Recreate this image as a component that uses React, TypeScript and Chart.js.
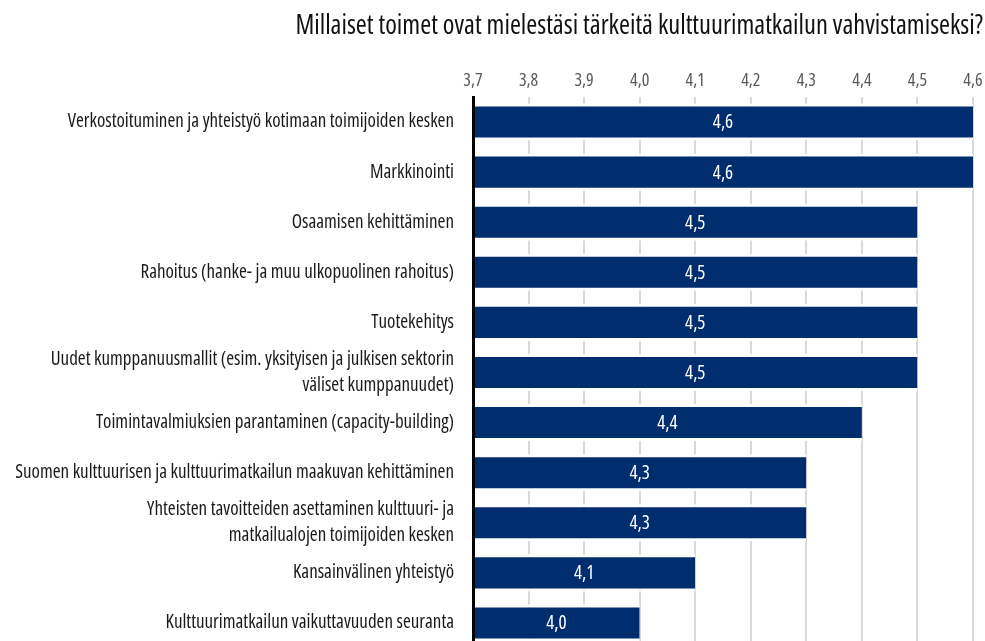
import React, { useEffect, useRef } from 'react';
import { Chart, registerables } from 'chart.js';

Chart.register(...registerables);

const TITLE = 'Millaiset toimet ovat mielestäsi tärkeitä kulttuurimatkailun vahvistamiseksi?';

const categories: (string | string[])[] = [
  'Verkostoituminen ja yhteistyö kotimaan toimijoiden kesken',
  'Markkinointi',
  'Osaamisen kehittäminen',
  'Rahoitus (hanke- ja muu ulkopuolinen rahoitus)',
  'Tuotekehitys',
  ['Uudet kumppanuusmallit (esim. yksityisen ja julkisen sektorin', 'väliset kumppanuudet)'],
  'Toimintavalmiuksien parantaminen (capacity-building)',
  'Suomen kulttuurisen ja kulttuurimatkailun maakuvan kehittäminen',
  ['Yhteisten tavoitteiden asettaminen kulttuuri- ja', 'matkailualojen toimijoiden kesken'],
  'Kansainvälinen yhteistyö',
  'Kulttuurimatkailun vaikuttavuuden seuranta',
];

const values = [4.6, 4.6, 4.5, 4.5, 4.5, 4.5, 4.4, 4.3, 4.3, 4.1, 4.0];

const axisMin = 3.7;
const axisMax = 4.6;
const axisStep = 0.1;

const FAMILY = '"Open Sans", "DejaVu Sans Condensed", sans-serif';
const STRETCH = 'condensed';
const BAR_COLOR = '#002D6E';

const fmt = (v: number) => v.toFixed(1).replace('.', ',');

const overlayPlugin = {
  id: 'overlay',
  afterDraw(chart: any) {
    const ctx = chart.ctx;
    const xs = chart.scales.x;
    const ys = chart.scales.y;
    ctx.save();
    ctx.font = `normal ${STRETCH} 19px ${FAMILY}`;
    ctx.fillStyle = '#ffffff';
    ctx.textAlign = 'center';
    ctx.textBaseline = 'middle';
    for (let i = 0; i < values.length; i++) {
      const x0 = xs.getPixelForValue(axisMin);
      const x1 = xs.getPixelForValue(values[i]);
      const y = ys.getPixelForValue(i);
      ctx.fillText(fmt(values[i]), (x0 + x1) / 2, y + 1);
    }
    ctx.restore();

    ctx.save();
    ctx.font = `normal ${STRETCH} 26.5px ${FAMILY}`;
    ctx.fillStyle = '#111111';
    ctx.textAlign = 'right';
    ctx.textBaseline = 'middle';
    ctx.fillText(TITLE, 983, 26);
    ctx.restore();
  },
};

export default function App() {
  const canvasRef = useRef<HTMLCanvasElement | null>(null);

  useEffect(() => {
    if (!canvasRef.current) return;
    const chart = new Chart(canvasRef.current, {
      type: 'bar',
      data: {
        labels: categories,
        datasets: [
          {
            data: values,
            backgroundColor: BAR_COLOR,
            borderColor: '#ffffff',
            borderWidth: { top: 3, bottom: 3, left: 0, right: 0 },
            borderSkipped: false,
            categoryPercentage: 1,
            barPercentage: 0.74,
          },
        ],
      },
      options: {
        indexAxis: 'y',
        responsive: false,
        animation: false,
        layout: { padding: { top: 40, right: 12, bottom: 0, left: 0 } },
        plugins: {
          legend: { display: false },
          title: { display: false },
          tooltip: { enabled: false },
        },
        scales: {
          x: {
            position: 'top',
            min: axisMin,
            max: axisMax,
            ticks: {
              stepSize: axisStep,
              padding: 5,
              color: '#595959',
              font: { family: FAMILY, size: 18, weight: STRETCH },
              callback: (v: any) => fmt(Number(v)),
            },
            grid: { color: '#d9d9d9', lineWidth: 2, drawTicks: false },
            border: { display: false },
            afterFit: (scale: any) => {
              scale.height = 57;
              scale.paddingLeft = 0;
              scale.paddingRight = 0;
            },
          },
          y: {
            ticks: {
              autoSkip: false,
              padding: 19,
              color: '#1a1a1a',
              font: { family: FAMILY, size: 19, weight: STRETCH, lineHeight: 1.37 },
            },
            grid: { display: false, drawTicks: false },
            border: { display: true, color: '#000000', width: 3, z: 1 },
            afterFit: (scale: any) => {
              scale.width = 473;
            },
          },
        },
      },
      plugins: [overlayPlugin],
    });
    return () => chart.destroy();
  }, []);

  return (
    <div
      style={{
        position: 'fixed',
        left: 0,
        top: 0,
        width: 985,
        height: 641,
        overflow: 'hidden',
        background: '#ffffff',
      }}
    >
      <canvas ref={canvasRef} width={985} height={680} style={{ display: 'block' }} />
    </div>
  );
}
